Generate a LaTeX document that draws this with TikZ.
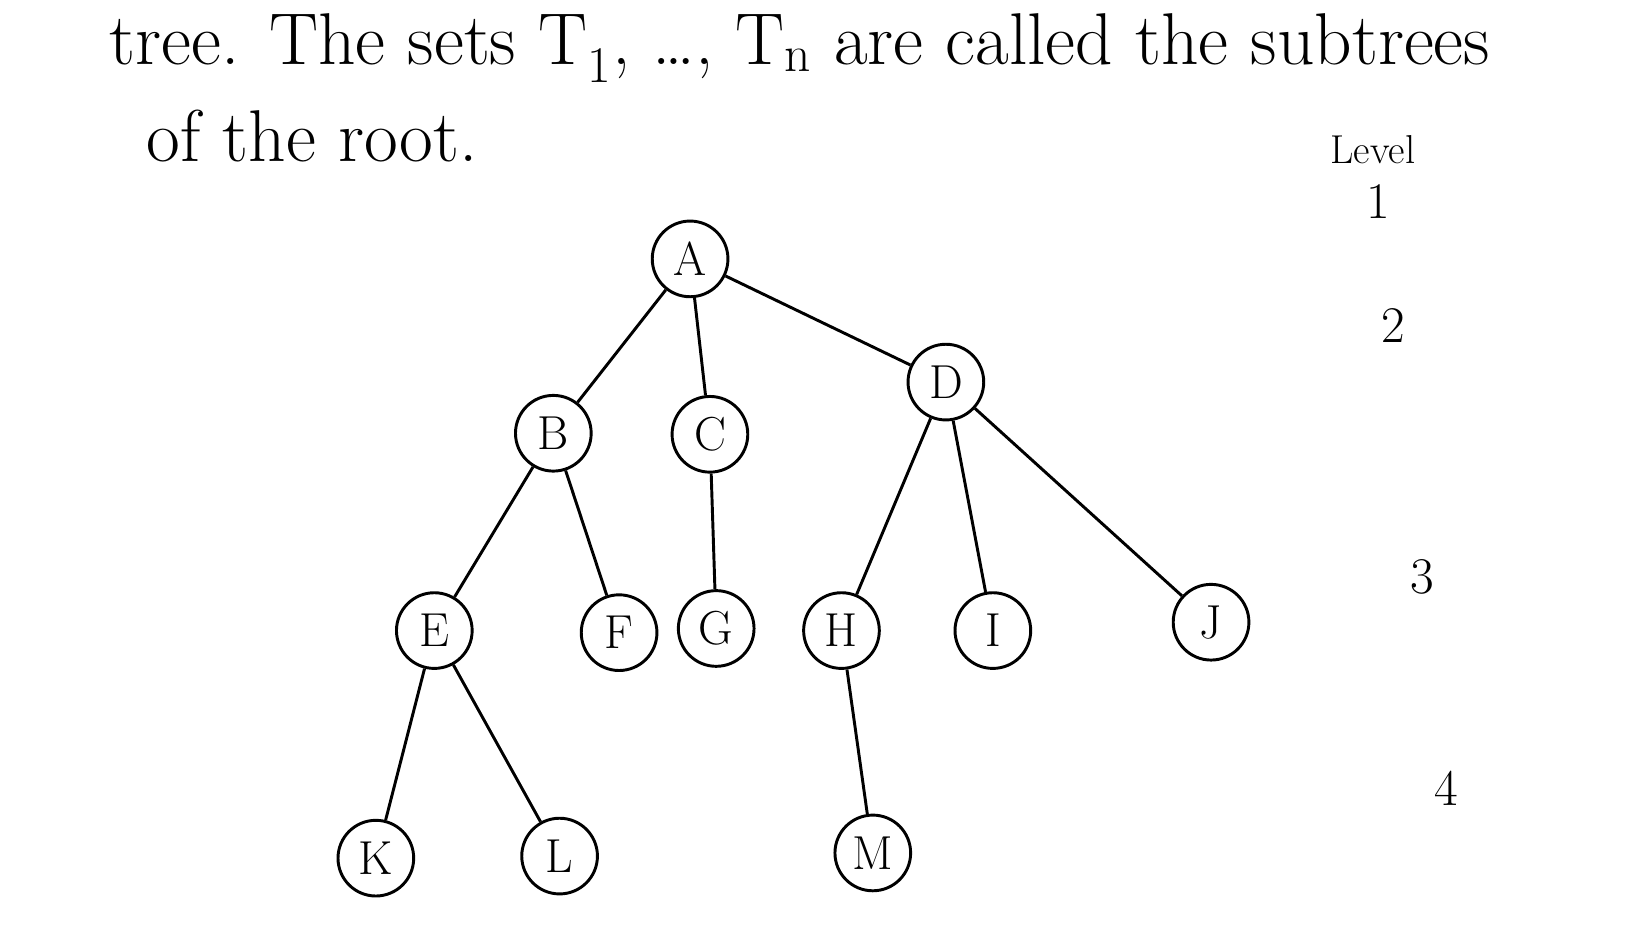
\documentclass[tikz,border=0pt]{standalone}
\usepackage{fontspec}
\usepackage{amsmath}

\begin{document}
\begin{tikzpicture}[vertex/.style={circle, draw, line width=1.6pt, minimum size=1.45cm, inner sep=0pt, font=\fontsize{26}{30}\selectfont},
    note/.style={font=\fontsize{40}{46}\selectfont, inner sep=0pt},
    levelnum/.style={font=\fontsize{28}{32}\selectfont, inner sep=0pt}]

        \useasboundingbox (0,0) rectangle (31.36,18.02);

        % the text above the tree
        \node[note, anchor=west] (line1) at (2.1, 17.1) {tree. The sets T\textsubscript{1}, \dots, T\textsubscript{n} are called the subtrees};
        \node[note, anchor=west] (line2) at (2.8, 15.42) {of the root.};

        % level numbers
        \node[levelnum, font=\fontsize{22}{26}\selectfont] (lvl) at (26.3, 15.15) {Level};
        \node[levelnum] (l1) at (26.4, 14.15) {1};
        \node[levelnum] (l2) at (26.7, 11.78) {2};
        \node[levelnum] (l3) at (27.24, 6.96) {3};
        \node[levelnum] (l4) at (27.7, 2.92) {4};

        % the tree
        \node[vertex] (a) at (13.22, 13.06) {A};
        \node[vertex] (b) at (10.6, 9.72) {B};
        \node[vertex] (c) at (13.6, 9.7) {C};
        \node[vertex] (d) at (18.12, 10.7) {D};
        \node[vertex] (e) at (8.32, 5.94) {E};
        \node[vertex] (f) at (11.86, 5.9) {F};
        \node[vertex] (g) at (13.72, 5.98) {G};
        \node[vertex] (h) at (16.12, 5.94) {H};
        \node[vertex] (i) at (19.02, 5.94) {I};
        \node[vertex] (j) at (23.2, 6.1) {J};
        \node[vertex] (k) at (7.2, 1.58) {K};
        \node[vertex] (l) at (10.72, 1.62) {L};
        \node[vertex] (m) at (16.72, 1.68) {M};

        \path[draw, line width=1.6pt]
        (a) edge (b)
        (a) edge (c)
        (a) edge (d)
        (b) edge (e)
        (b) edge (f)
        (c) edge (g)
        (d) edge (h)
        (d) edge (i)
        (d) edge (j)
        (e) edge (k)
        (e) edge (l)
        (h) edge (m)
        ;

    \end{tikzpicture}
\end{document}
